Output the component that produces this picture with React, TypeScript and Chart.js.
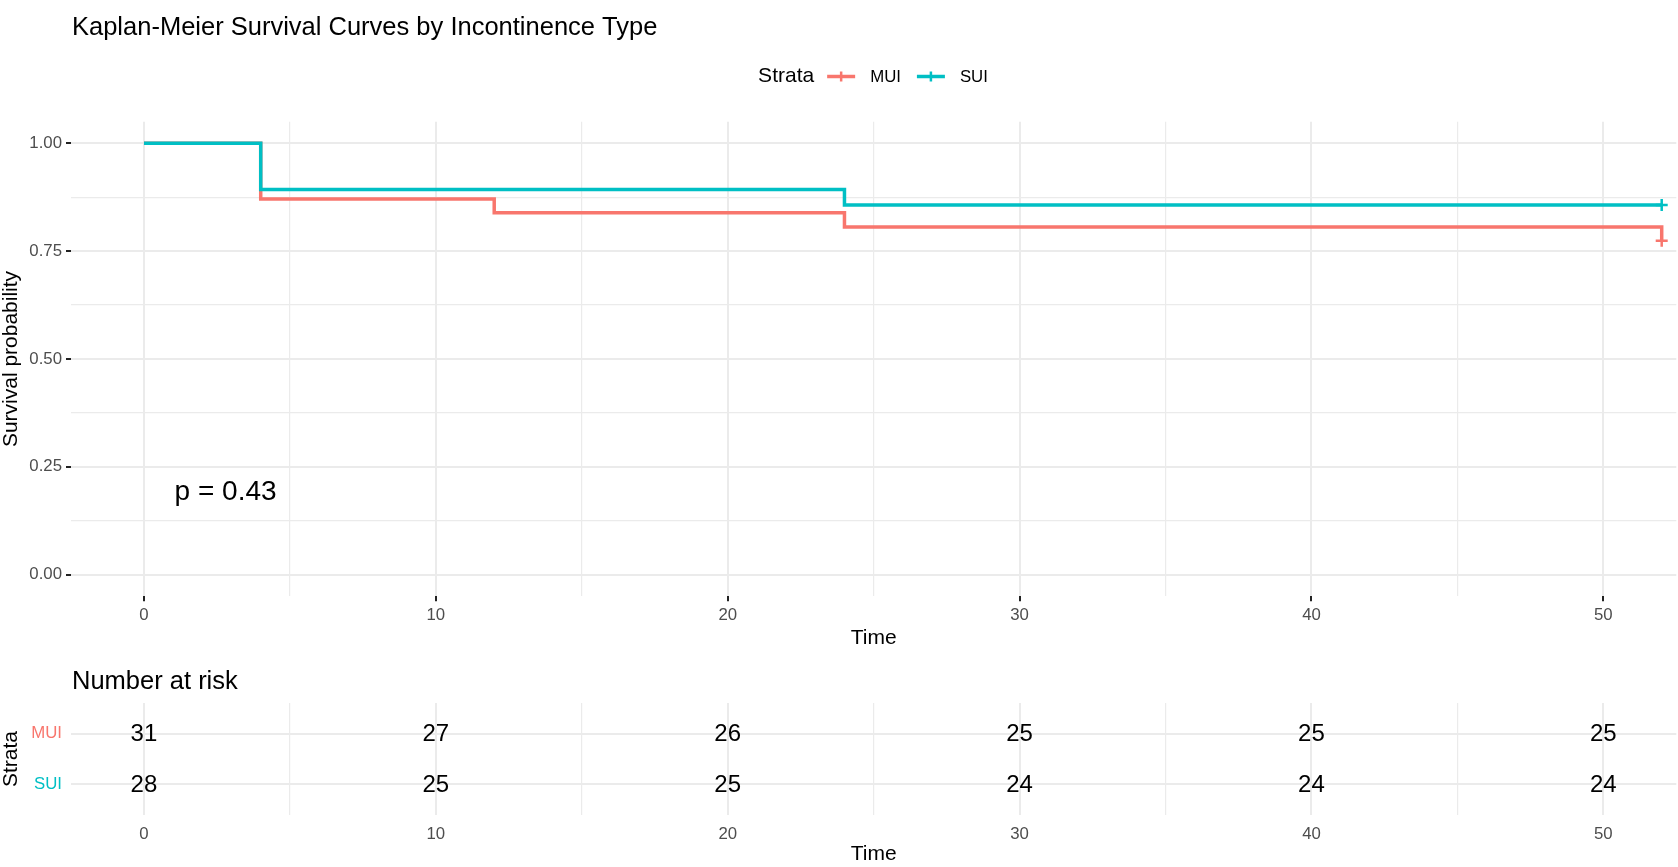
import React, { useEffect, useRef } from 'react';
import { Chart, registerables } from 'chart.js';

Chart.register(...registerables);

const FONT = "'Liberation Sans', Arial, Helvetica, sans-serif";
const TITLE = 'Kaplan-Meier Survival Curves by Incontinence Type';
const LEGEND_TITLE = 'Strata';
const RISK_TITLE = 'Number at risk';
const X_TITLE = 'Time';
const Y_TITLE = 'Survival probability';
const STRATA = ['MUI', 'SUI'];
const COLORS = ['#F8766D', '#00BFC4'];

const MUI_TIME = [0, 4, 12, 24, 52];
const MUI_SURV = [1, 0.871, 0.839, 0.806, 0.774];
const SUI_TIME = [0, 4, 24, 52];
const SUI_SURV = [1, 0.893, 0.857, 0.857];
const MUI_CENSOR_TIME = [52];
const MUI_CENSOR_SURV = [0.774];
const SUI_CENSOR_TIME = [52];
const SUI_CENSOR_SURV = [0.857];

const X_TICKS = [0, 10, 20, 30, 40, 50];
const X_MINOR = [5, 15, 25, 35, 45];
const Y_TICKS = [0, 0.25, 0.5, 0.75, 1];
const Y_MINOR = [0.125, 0.375, 0.625, 0.875];

const RISK_TIME = [0, 10, 20, 30, 40, 50];
const MUI_RISK = [31, 27, 26, 25, 25, 25];
const SUI_RISK = [28, 25, 25, 24, 24, 24];

const P_TEXT = 'p = 0.43';
const P_X = 1.05;
const P_Y = 0.19;

const W = 1678;
const MAIN_H = 660;
const TABLE_H = 207;
const GRID = '#EBEBEB';
const TICK_TEXT = '#4D4D4D';

const isIn = (arr: number[], v: number) => arr.some((a) => Math.abs(a - v) < 1e-9);
const pts = (xs: number[], ys: number[]) => xs.map((x, i) => ({ x, y: ys[i] }));

const mainPlugin = {
  id: 'mainText',
  afterDraw(chart: any) {
    const ctx = chart.ctx;
    const xs = chart.scales.x;
    const ys = chart.scales.y;
    ctx.save();
    ctx.fillStyle = '#000';
    ctx.textAlign = 'left';
    ctx.textBaseline = 'alphabetic';
    ctx.font = `25.5px ${FONT}`;
    ctx.fillText(TITLE, chart.chartArea.left + 1, 35);

    // legend
    const cy = 76.5;
    ctx.font = `21px ${FONT}`;
    const wTitle = ctx.measureText(LEGEND_TITLE).width;
    ctx.font = `16.8px ${FONT}`;
    const wLab = STRATA.map((s) => ctx.measureText(s).width);
    const keyW = 28;
    const total = wTitle + 13 + (keyW + 15) * 2 + wLab[0] + 16 + wLab[1];
    let x = 873 - total / 2;
    ctx.textBaseline = 'middle';
    ctx.font = `21px ${FONT}`;
    ctx.fillText(LEGEND_TITLE, x, cy);
    x += wTitle + 13;
    STRATA.forEach((s, i) => {
      ctx.strokeStyle = COLORS[i];
      ctx.lineWidth = 3.5;
      ctx.beginPath();
      ctx.moveTo(x, cy);
      ctx.lineTo(x + keyW, cy);
      ctx.stroke();
      ctx.lineWidth = 2.5;
      ctx.beginPath();
      ctx.moveTo(x + keyW / 2, cy - 5);
      ctx.lineTo(x + keyW / 2, cy + 5);
      ctx.stroke();
      x += keyW + 15;
      ctx.font = `16.8px ${FONT}`;
      ctx.fillStyle = '#000';
      ctx.fillText(s, x, cy + 1);
      x += wLab[i] + 16;
    });

    // p-value
    ctx.font = `28px ${FONT}`;
    ctx.textBaseline = 'middle';
    ctx.fillText(P_TEXT, xs.getPixelForValue(P_X), ys.getPixelForValue(P_Y));
    ctx.restore();
  },
};

const tablePlugin = {
  id: 'tableText',
  afterDraw(chart: any) {
    const ctx = chart.ctx;
    const xs = chart.scales.x;
    const ys = chart.scales.y;
    ctx.save();
    ctx.fillStyle = '#000';
    ctx.textAlign = 'center';
    ctx.textBaseline = 'middle';
    ctx.font = `24px ${FONT}`;
    RISK_TIME.forEach((t, i) => {
      ctx.fillText(String(MUI_RISK[i]), xs.getPixelForValue(t), ys.getPixelForValue(1) + 1);
      ctx.fillText(String(SUI_RISK[i]), xs.getPixelForValue(t), ys.getPixelForValue(2) + 1);
    });
    ctx.textAlign = 'left';
    ctx.textBaseline = 'alphabetic';
    ctx.font = `25.5px ${FONT}`;
    ctx.fillText(RISK_TITLE, chart.chartArea.left + 1, 29);
    ctx.restore();
  },
};

function xAxis(height: number, titlePadBottom: number, showTicks: boolean) {
  return {
    type: 'linear',
    min: -2.5,
    max: 52.5,
    afterBuildTicks: (scale: any) => {
      scale.ticks = [...X_TICKS, ...X_MINOR].sort((a, b) => a - b).map((v) => ({ value: v }));
    },
    afterFit: (scale: any) => {
      scale.height = height;
    },
    border: { display: false },
    grid: {
      color: GRID,
      lineWidth: (c: any) => (c.tick && isIn(X_TICKS, c.tick.value) ? 2 : 1.2),
      drawTicks: true,
      tickLength: 5,
      tickWidth: 2,
      tickColor: (c: any) => (showTicks && c.tick && isIn(X_TICKS, c.tick.value) ? '#222' : 'rgba(0,0,0,0)'),
    },
    ticks: {
      autoSkip: false,
      maxRotation: 0,
      padding: 4,
      color: TICK_TEXT,
      font: { family: FONT, size: 16.8 },
      callback: (v: any) => (isIn(X_TICKS, Number(v)) ? String(v) : ''),
    },
    title: {
      display: true,
      text: X_TITLE,
      color: '#000',
      font: { family: FONT, size: 21, lineHeight: 1 },
      padding: { top: 0, bottom: titlePadBottom },
    },
  };
}

function MainChart() {
  const ref = useRef<HTMLCanvasElement>(null);
  useEffect(() => {
    if (!ref.current) return;
    const chart = new Chart(ref.current, {
      type: 'line',
      data: {
        datasets: [
          {
            label: 'SUI censor',
            type: 'scatter',
            data: pts(SUI_CENSOR_TIME, SUI_CENSOR_SURV),
            borderColor: COLORS[1],
            backgroundColor: COLORS[1],
            pointStyle: 'cross',
            pointRadius: 6,
            borderWidth: 2.5,
            order: -2,
          } as any,
          {
            label: 'MUI censor',
            type: 'scatter',
            data: pts(MUI_CENSOR_TIME, MUI_CENSOR_SURV),
            borderColor: COLORS[0],
            backgroundColor: COLORS[0],
            pointStyle: 'cross',
            pointRadius: 6,
            borderWidth: 2.5,
            order: -1,
          } as any,
          {
            label: STRATA[1],
            data: pts(SUI_TIME, SUI_SURV),
            borderColor: COLORS[1],
            borderWidth: 3.5,
            stepped: 'before',
            pointRadius: 0,
            fill: false,
            order: 0,
          },
          {
            label: STRATA[0],
            data: pts(MUI_TIME, MUI_SURV),
            borderColor: COLORS[0],
            borderWidth: 3.5,
            stepped: 'before',
            pointRadius: 0,
            fill: false,
            order: 1,
          },
        ],
      },
      options: {
        animation: false,
        responsive: false,
        devicePixelRatio: 1,
        layout: { autoPadding: false, padding: { left: 0, right: 1.7, top: 121.7, bottom: 0 } },
        plugins: { legend: { display: false }, title: { display: false }, tooltip: { enabled: false } },
        scales: {
          x: xAxis(MAIN_H - 596.3, 11.5, true) as any,
          y: {
            type: 'linear',
            min: -0.05,
            max: 1.05,
            afterBuildTicks: (scale: any) => {
              scale.ticks = [...Y_TICKS, ...Y_MINOR].sort((a, b) => a - b).map((v) => ({ value: v }));
            },
            afterFit: (scale: any) => {
              scale.width = 71;
            },
            border: { display: false },
            grid: {
              color: GRID,
              lineWidth: (c: any) => (c.tick && isIn(Y_TICKS, c.tick.value) ? 2 : 1.2),
              drawTicks: true,
              tickLength: 5,
              tickWidth: 2,
              tickColor: (c: any) => (c.tick && isIn(Y_TICKS, c.tick.value) ? '#222' : 'rgba(0,0,0,0)'),
            },
            ticks: {
              autoSkip: false,
              padding: 4,
              color: TICK_TEXT,
              font: { family: FONT, size: 16.8 },
              callback: (v: any) => (isIn(Y_TICKS, Number(v)) ? Number(v).toFixed(2) : ''),
            },
            title: {
              display: true,
              text: Y_TITLE,
              color: '#000',
              font: { family: FONT, size: 21, lineHeight: 1 },
              padding: { top: 1, bottom: 0 },
            },
          } as any,
        },
      },
      plugins: [mainPlugin],
    });
    return () => chart.destroy();
  }, []);
  return (
    <canvas
      ref={ref}
      width={W}
      height={MAIN_H}
      style={{ position: 'absolute', left: 0, top: 0, width: W, height: MAIN_H }}
    />
  );
}

function RiskTable() {
  const ref = useRef<HTMLCanvasElement>(null);
  useEffect(() => {
    if (!ref.current) return;
    const chart = new Chart(ref.current, {
      type: 'scatter',
      data: { datasets: [{ label: 'risk', data: [], pointRadius: 0 }] },
      options: {
        animation: false,
        responsive: false,
        devicePixelRatio: 1,
        layout: { autoPadding: false, padding: { left: 0, right: 1.7, top: 43, bottom: 0 } },
        plugins: { legend: { display: false }, title: { display: false }, tooltip: { enabled: false } },
        scales: {
          x: xAxis(TABLE_H - 155, 2, false) as any,
          y: {
            type: 'linear',
            min: 0.4,
            max: 2.6,
            reverse: true,
            afterBuildTicks: (scale: any) => {
              scale.ticks = STRATA.map((_, i) => ({ value: i + 1 }));
            },
            afterFit: (scale: any) => {
              scale.width = 71;
            },
            border: { display: false },
            grid: {
              color: GRID,
              lineWidth: 2,
              drawTicks: true,
              tickLength: 5,
              tickColor: 'rgba(0,0,0,0)',
            },
            ticks: {
              autoSkip: false,
              padding: 4,
              color: (c: any) => COLORS[c.index] || TICK_TEXT,
              font: { family: FONT, size: 16.8 },
              callback: (v: any) => STRATA[Math.round(Number(v)) - 1] || '',
            },
            title: {
              display: true,
              text: LEGEND_TITLE,
              color: '#000',
              font: { family: FONT, size: 21, lineHeight: 1 },
              padding: { top: 1, bottom: 0 },
            },
          } as any,
        },
      },
      plugins: [tablePlugin],
    });
    return () => chart.destroy();
  }, []);
  return (
    <canvas
      ref={ref}
      width={W}
      height={TABLE_H}
      style={{ position: 'absolute', left: 0, top: MAIN_H, width: W, height: TABLE_H }}
    />
  );
}

export default function App() {
  return (
    <div
      style={{
        position: 'fixed',
        left: 0,
        top: 0,
        width: W,
        height: MAIN_H + TABLE_H,
        background: '#fff',
        overflow: 'hidden',
      }}
    >
      <MainChart />
      <RiskTable />
    </div>
  );
}
